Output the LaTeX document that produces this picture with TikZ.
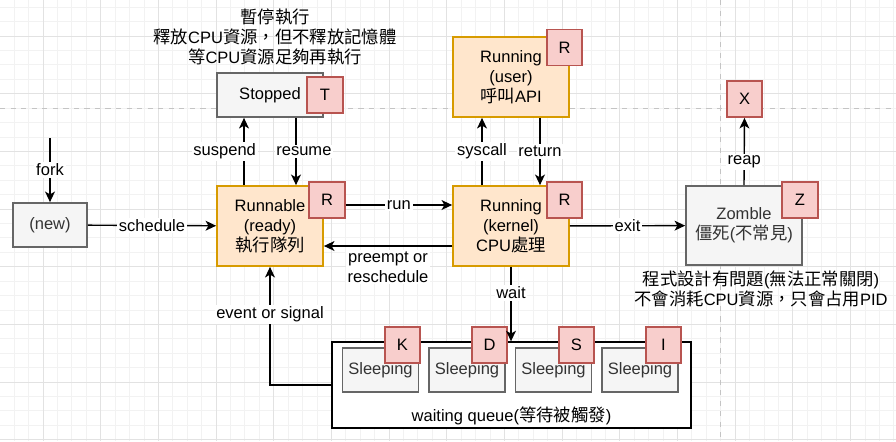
\documentclass[tikz,border=0pt]{standalone}
\usepackage{fontspec}
\setmainfont{Liberation Sans}
\newfontfamily\zhfont[Scale=1.05]{Noto Sans CJK TC}
\newcommand{\zh}[1]{{\zhfont #1}}
\usetikzlibrary{arrows.meta,calc}
\definecolor{gridminor}{HTML}{F2F2F2}
\definecolor{gridmajor}{HTML}{E2E2E2}
\definecolor{pageline}{HTML}{C4C4C4}
\definecolor{grayfill}{HTML}{F5F5F5}
\definecolor{graydraw}{HTML}{666666}
\definecolor{graytext}{HTML}{333333}
\definecolor{orangefill}{HTML}{FFE6CC}
\definecolor{orangedraw}{HTML}{D79B00}
\definecolor{redfill}{HTML}{F8CECC}
\definecolor{reddraw}{HTML}{B85450}
\begin{document}
\begin{tikzpicture}[x=0.02cm,y=-0.02cm,
  every node/.style={font=\fontsize{9.4pt}{11.34pt}\selectfont},
  graybox/.style={draw=graydraw,fill=grayfill,line width=1pt,text=graytext,align=center},
  orangebox/.style={draw=orangedraw,fill=orangefill,line width=1pt,align=center},
  badge/.style={draw=reddraw,fill=redfill,line width=1pt,minimum width=0.71cm,minimum height=0.72cm},
  lbl/.style={fill=white,inner sep=1pt},
  arr/.style={-{Stealth[length=6pt,width=5.6pt,inset=1.6pt]},line width=0.8pt}]

        \useasboundingbox (0,0) rectangle (896,441);

        % grid
        \foreach \k in {0,...,62}
          \draw[gridminor,line width=0.5pt] ({43+14.42*(\k-3)},0) -- ({43+14.42*(\k-3)},441);
        \foreach \k in {0,...,31}
          \draw[gridminor,line width=0.5pt] (0,{36+14.42*(\k-2)}) -- (896,{36+14.42*(\k-2)});
        \foreach \k in {0,...,15}
          \draw[gridmajor,line width=0.5pt] ({43+57.68*(\k-1)},0) -- ({43+57.68*(\k-1)},441);
        \foreach \k in {0,...,8}
          \draw[gridmajor,line width=0.5pt] (0,{36+57.68*(\k-1)}) -- (896,{36+57.68*(\k-1)});
        \draw[pageline,dashed,line width=0.5pt] (0,108) -- (896,108);
        \draw[pageline,dashed,line width=0.5pt] (720.7,0) -- (720.7,441);

        % states
        \node[graybox,minimum width=1.48cm,minimum height=0.88cm] (new) at (50,225) {(new)};
        \node[graybox,text=black,minimum width=2.12cm,minimum height=0.88cm] (stopped) at (270,95) {Stopped};
        \node[orangebox,minimum width=2.12cm,minimum height=1.6cm] (runnable) at (270,226) {Runnable\\(ready)\\\zh{執行隊列}};
        \node[orangebox,minimum width=2.32cm,minimum height=1.6cm] (user) at (511,77) {Running\\(user)\\\zh{呼叫}API};
        \node[orangebox,minimum width=2.32cm,minimum height=1.6cm] (kernel) at (511,226) {Running\\(kernel)\\CPU\zh{處理}};
        \node[graybox,minimum width=2.32cm,minimum height=1.58cm] (zombie) at (744,225.5) {Zomble\\\zh{僵死}(\zh{不常見})};

        \node[badge] (tbadge) at (325,95) {T};
        \node[badge] (rbadge1) at (327,200) {R};
        \node[badge] (rbadge2) at (564.5,47.5) {R};
        \node[badge] (rbadge3) at (564.5,200) {R};
        \node[badge] (zbadge) at (800,200) {Z};
        \node[badge] (xbadge) at (744.5,99) {X};

        % waiting queue
        \node[draw,line width=0.8pt,fill=white,minimum width=7.18cm,minimum height=1.72cm] (queue) at (511.5,385) {};
        \node (qtext) at (511.5,416) {waiting queue(\zh{等待被觸發})};
        \foreach \n/\s [count=\i from 0] in {k/K,d/D,s/S,i/I} {
          \node[graybox,minimum width=1.46cm,minimum height=0.88cm] (sleep\n) at ({380.5+86.5*\i},370) {Sleeping};
          \node[badge] (badge\n) at ({402.5+87*\i},345) {\s};
        }

        \node[align=center] (stopnote) at (275,37) {\zh{暫停執行}\\\zh{釋放}CPU\zh{資源，但不釋放記憶體}\\\zh{等}CPU\zh{資源足夠再執行}};
        \node[align=center] (zombnote) at (761,288.5) {\zh{程式設計有問題}(\zh{無法正常關閉})\\\zh{不會消耗}CPU\zh{資源，只會占用}PID};

        % transitions
        \coordinate (forktop) at (50,138);
        \draw[arr] (forktop) -- node[lbl]{fork} (new);
        \draw[arr] (new) -- node[lbl]{schedule} (runnable);
        \draw[arr] ($(runnable.north)+(-26,0)$) -- node[lbl,xshift=-11pt]{suspend} ($(stopped.south)+(-26,0)$);
        \draw[arr] ($(stopped.south)+(26,0)$) -- node[lbl,xshift=4.5pt]{resume} ($(runnable.north)+(26,0)$);
        \draw[arr] ($(rbadge1.east)+(0,5)$) -- node[lbl]{run} ($(kernel.west)+(0,-21)$);
        \draw[arr] ($(kernel.west)+(0,20)$) -- node[lbl,yshift=-12pt,align=center]{preempt or\\reschedule} ($(runnable.east)+(0,20)$);
        \draw[arr] ($(kernel.north)+(-29,0)$) -- node[lbl]{syscall} ($(user.south)+(-29,0)$);
        \draw[arr] ($(user.south)+(29,0)$) -- node[lbl]{return} ($(kernel.north)+(29,0)$);
        \draw[arr] (kernel) -- node[lbl]{exit} (zombie);
        \draw[arr] (zombie.north) -- node[lbl,pos=0.35]{reap} (xbadge.south);
        \draw[arr] (kernel.south) -- node[lbl,pos=0.35]{wait} (kernel.south |- queue.north);
        \draw[arr] (queue.west) -| node[lbl,pos=0.8]{event or signal} (runnable.south);

\end{tikzpicture}
\end{document}
